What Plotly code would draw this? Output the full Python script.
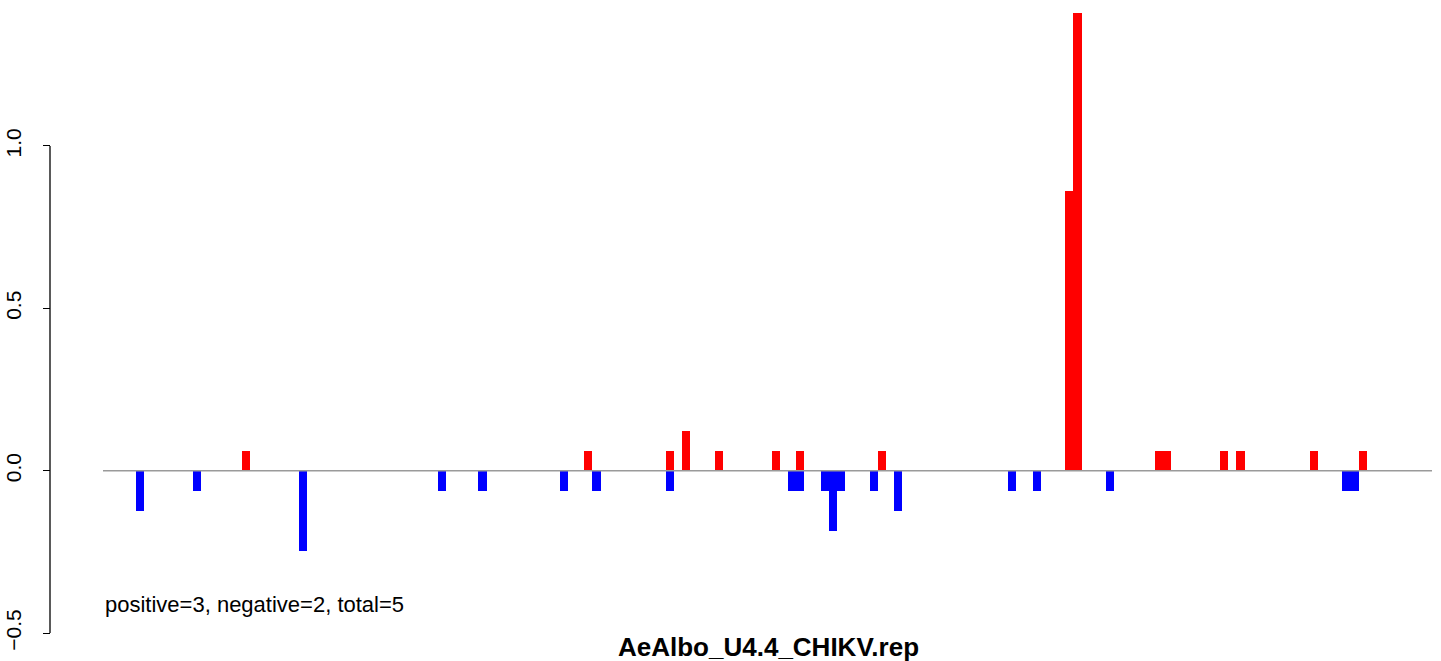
import plotly.graph_objects as go

# ---- data ----
# bar positions (sequence index) and heights
pos_x = [14, 56, 66, 68, 72, 79, 82, 92, 115, 116, 126, 127, 134, 136, 145, 151]
pos_y = [0.0616, 0.0616, 0.0616, 0.1232, 0.0616, 0.0616, 0.0616, 0.0616,
         0.862, 1.41, 0.0616, 0.0616, 0.0616, 0.0616, 0.0616, 0.0616]

neg_x = [1, 8, 21, 38, 43, 53, 57, 66, 81, 82, 85, 86, 87, 91, 94, 108, 111, 120, 149, 150]
neg_y = [-0.1232, -0.0616, -0.2464, -0.0616, -0.0616, -0.0616, -0.0616, -0.0616,
         -0.0616, -0.0616, -0.0616, -0.1848, -0.0616, -0.0616, -0.1232, -0.0616,
         -0.0616, -0.0616, -0.0616, -0.0616]

ytick_vals = [-0.5, 0.0, 0.5, 1.0]
ytick_text = ["\u22120.5", "0.0", "0.5", "1.0"]

title_text = "AeAlbo_U4.4_CHIKV.rep"
count_text = "positive=3, negative=2, total=5"

FONT = "Liberation Sans, Arial, sans-serif"

W, H = 1441, 661
ML, MR = 50, 9
paper_w = W - ML - MR
x_dom0 = (103 - ML) / paper_w

fig = go.Figure()
fig.add_trace(go.Bar(x=pos_x, y=pos_y, width=1, marker=dict(color="#ff0000", line=dict(width=0)),
                     showlegend=False))
fig.add_trace(go.Bar(x=neg_x, y=neg_y, width=1, marker=dict(color="#0000ff", line=dict(width=0)),
                     showlegend=False))

# baseline
fig.add_shape(type="line", xref="paper", yref="y", x0=x_dom0, x1=1, y0=0, y1=0,
              line=dict(color="#9a9a9a", width=1.6), layer="above")
# y axis line (only between extreme ticks, like R)
fig.add_shape(type="line", xref="paper", yref="y", x0=0, x1=0, y0=-0.5, y1=1.0,
              line=dict(color="black", width=1.3))

fig.add_annotation(text=count_text, xref="paper", yref="y",
                   x=(103 - ML) / paper_w, y=-0.4105, xanchor="left", yanchor="middle",
                   showarrow=False, font=dict(family=FONT, size=22, color="black"))
fig.add_annotation(text="<b>" + title_text + "</b>", xref="paper", yref="y",
                   x=(768 - ML) / paper_w, y=-0.543, xanchor="center", yanchor="middle",
                   showarrow=False, font=dict(family=FONT, size=26, color="black"))

fig.update_layout(
    width=W, height=H,
    margin=dict(l=ML, r=MR, t=0, b=0),
    plot_bgcolor="white", paper_bgcolor="white",
    barmode="overlay", bargap=0,
    xaxis=dict(domain=[x_dom0, 1], range=[-3.55, 159.5], visible=False, showgrid=False,
               zeroline=False),
    yaxis=dict(range=[-0.586, 1.4496], anchor="free", position=0, side="left",
               showgrid=False, zeroline=False, showline=False,
               tickvals=ytick_vals, ticktext=ytick_text, tickangle=-90,
               ticks="outside", ticklen=7, tickwidth=1.3, tickcolor="black",
               ticklabelstandoff=14,
               tickfont=dict(family=FONT, size=21, color="black")),
)

fig.write_html("out.html", config={"displayModeBar": False},
               post_script="document.body.style.margin='0px';document.body.style.overflow='hidden';")
